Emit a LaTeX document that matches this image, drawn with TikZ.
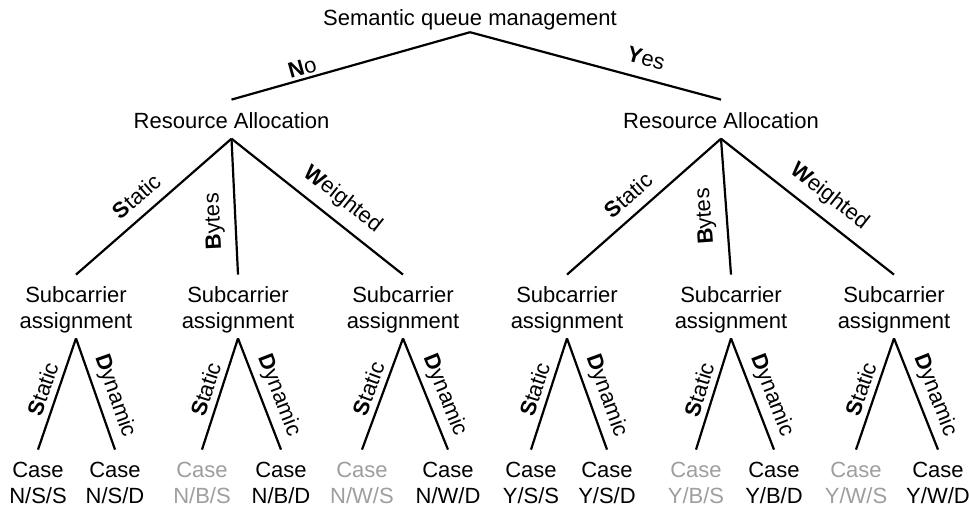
\documentclass[tikz,border=0pt]{standalone}
\usepackage{fontspec}
\setmainfont{Liberation Sans}
\definecolor{caseoff}{gray}{0.62}
\begin{document}
\begin{tikzpicture}[x=0.5pt, y=-0.5pt,
  every node/.style={font=\fontsize{11}{13}\selectfont},
  edge/.style={line width=1.1pt},
  rootlbl/.style={inner sep=0pt, anchor=base, text depth=3.4pt},
  ralbl/.style={inner sep=0pt, anchor=base, text height=14.15pt, text depth=5pt},
  salbl/.style={inner sep=0pt, anchor=base, align=center, text height=26.65pt, text depth=4.85pt},
  caselbl/.style={inner sep=0pt, anchor=base, align=center, text height=26.65pt, text depth=3pt},
  off/.style={text=caseoff},
  lbl/.style={sloped, above, inner xsep=0pt}]
\useasboundingbox (0,0) rectangle (969,509);

% Koren
\node[rootlbl] (root) at (470,25) {Semantic queue management};
\node[ralbl] (ra1) at (231.5,128.3) {Resource Allocation};
\node[ralbl] (ra2) at (721,128.3) {Resource Allocation};
\draw[edge] (root.south) -- node[lbl, pos=0.69, inner ysep=1.5pt] {\textbf{N}o} (ra1.north);
\draw[edge] (root.south) -- node[lbl, pos=0.68, inner ysep=6pt] {\textbf{Y}es} (ra2.north);

% Vetev No
\node[salbl] (sa1) at (76,328.3) {Subcarrier\\assignment};
\node[salbl] (sa2) at (238,328.3) {Subcarrier\\assignment};
\node[salbl] (sa3) at (403,328.3) {Subcarrier\\assignment};
\draw[edge] (ra1.south) -- node[lbl, pos=0.53, inner ysep=5pt] {\textbf{S}tatic} (sa1.north);
\draw[edge] (sa2.north) -- node[lbl, allow upside down, pos=0.4, inner ysep=5pt] {\textbf{B}ytes} (ra1.south);
\draw[edge] (ra1.south) -- node[lbl, pos=0.57, inner ysep=5pt] {\textbf{W}eighted} (sa3.north);

\node[caselbl] (nss) at (38,503.3) {Case\\N/S/S};
\node[caselbl] (nsd) at (115,503.3) {Case\\N/S/D};
\node[caselbl, off] (nbs) at (202,503.3) {Case\\N/B/S};
\node[caselbl] (nbd) at (281,503.3) {Case\\N/B/D};
\node[caselbl, off] (nws) at (362,503.3) {Case\\N/W/S};
\node[caselbl] (nwd) at (448,503.3) {Case\\N/W/D};
\draw[edge] (sa1.south) -- node[lbl, pos=0.5, inner ysep=3pt] {\textbf{S}tatic} (nss.north);
\draw[edge] (sa1.south) -- node[lbl, pos=0.57, inner ysep=3pt] {\textbf{D}ynamic} (nsd.north);
\draw[edge] (sa2.south) -- node[lbl, pos=0.5, inner ysep=3pt] {\textbf{S}tatic} (nbs.north);
\draw[edge] (sa2.south) -- node[lbl, pos=0.57, inner ysep=3pt] {\textbf{D}ynamic} (nbd.north);
\draw[edge] (sa3.south) -- node[lbl, pos=0.5, inner ysep=3pt] {\textbf{S}tatic} (nws.north);
\draw[edge] (sa3.south) -- node[lbl, pos=0.57, inner ysep=3pt] {\textbf{D}ynamic} (nwd.north);

% Vetev Yes
\node[salbl] (sa4) at (567,328.3) {Subcarrier\\assignment};
\node[salbl] (sa5) at (731,328.3) {Subcarrier\\assignment};
\node[salbl] (sa6) at (894,328.3) {Subcarrier\\assignment};
\draw[edge] (ra2.south) -- node[lbl, pos=0.52, inner ysep=5pt] {\textbf{S}tatic} (sa4.north);
\draw[edge] (sa5.north) -- node[lbl, allow upside down, pos=0.44, inner ysep=5pt] {\textbf{B}ytes} (ra2.south);
\draw[edge] (ra2.south) -- node[lbl, pos=0.55, inner ysep=5pt] {\textbf{W}eighted} (sa6.north);

\node[caselbl] (yss) at (531,503.3) {Case\\Y/S/S};
\node[caselbl] (ysd) at (607,503.3) {Case\\Y/S/D};
\node[caselbl, off] (ybs) at (696,503.3) {Case\\Y/B/S};
\node[caselbl] (ybd) at (774,503.3) {Case\\Y/B/D};
\node[caselbl, off] (yws) at (856,503.3) {Case\\Y/W/S};
\node[caselbl] (ywd) at (938,503.3) {Case\\Y/W/D};
\draw[edge] (sa4.south) -- node[lbl, pos=0.5, inner ysep=3pt] {\textbf{S}tatic} (yss.north);
\draw[edge] (sa4.south) -- node[lbl, pos=0.57, inner ysep=3pt] {\textbf{D}ynamic} (ysd.north);
\draw[edge] (sa5.south) -- node[lbl, pos=0.5, inner ysep=3pt] {\textbf{S}tatic} (ybs.north);
\draw[edge] (sa5.south) -- node[lbl, pos=0.57, inner ysep=3pt] {\textbf{D}ynamic} (ybd.north);
\draw[edge] (sa6.south) -- node[lbl, pos=0.5, inner ysep=3pt] {\textbf{S}tatic} (yws.north);
\draw[edge] (sa6.south) -- node[lbl, pos=0.57, inner ysep=3pt] {\textbf{D}ynamic} (ywd.north);
\end{tikzpicture}
\end{document}
